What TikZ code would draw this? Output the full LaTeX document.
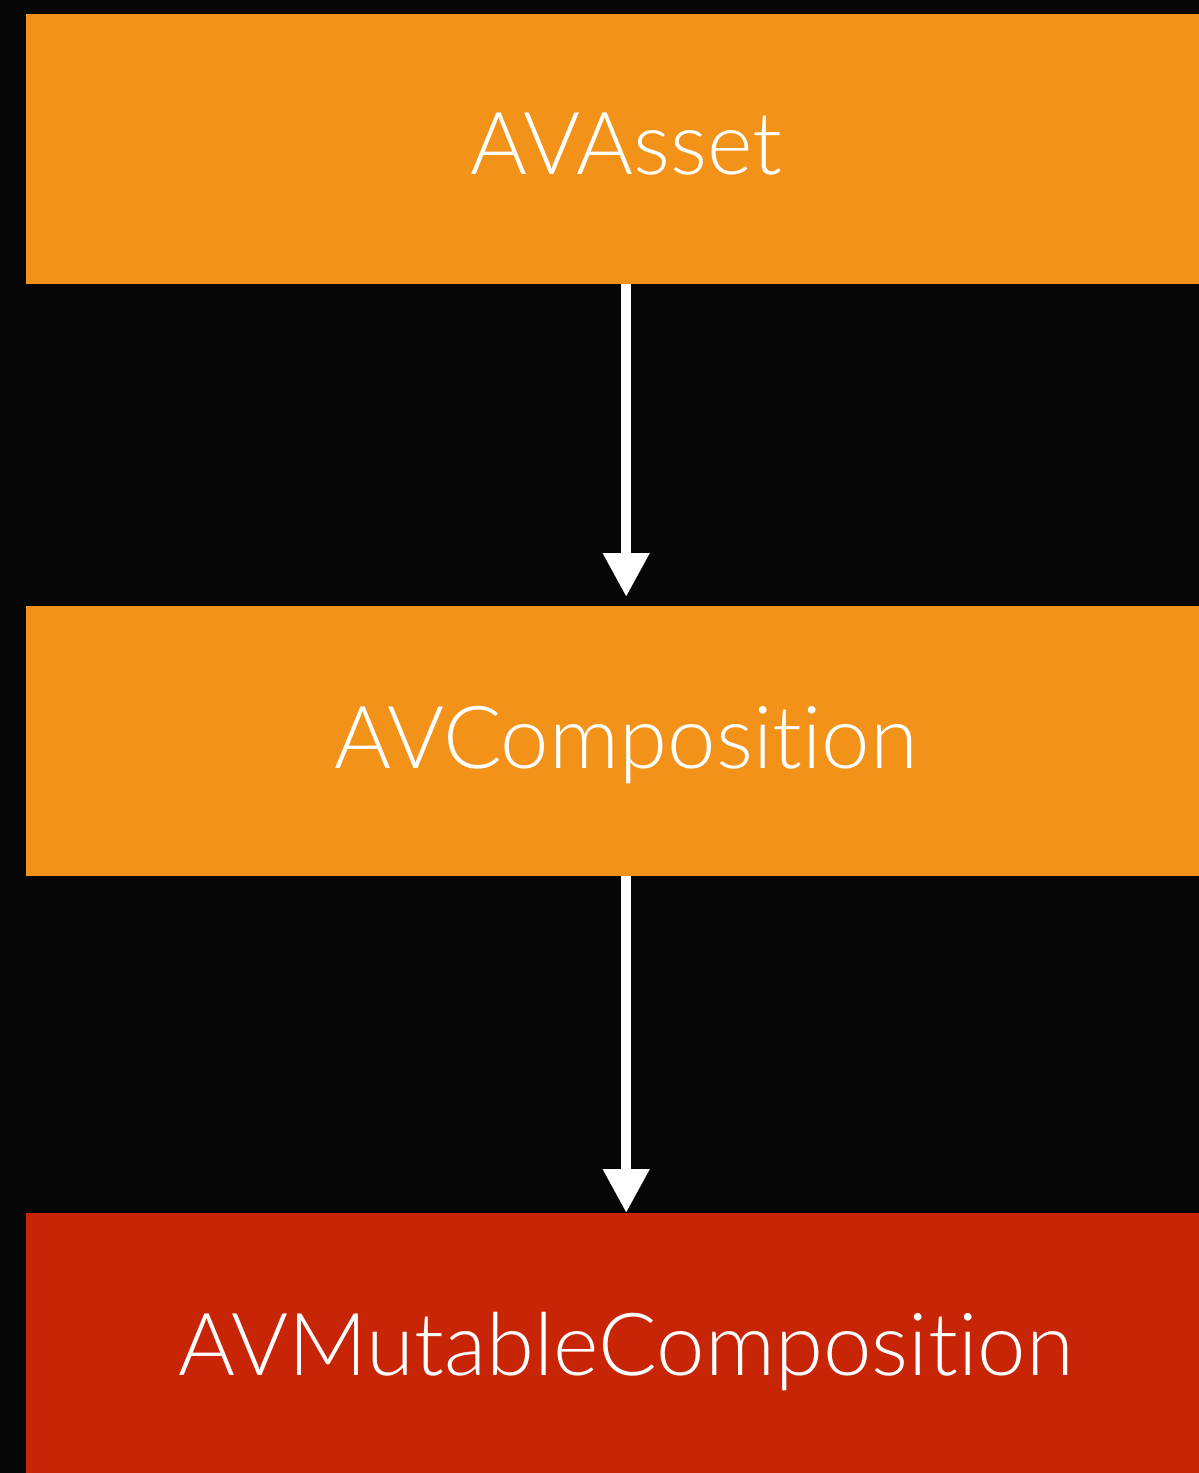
\documentclass[tikz,border=0pt]{standalone}
\usepackage{fontspec}
\setmainfont{Lato}[UprightFont=* Light, Ligatures=NoCommon]
\usetikzlibrary{arrows.meta}
\definecolor{bgblack}{HTML}{060606}
\definecolor{classorange}{HTML}{F39219}
\definecolor{classred}{HTML}{C82506}
\tikzset{
  classbox/.style={draw=none, rectangle, anchor=north west, inner sep=0pt,
    minimum width=1200pt, minimum height=270pt, text=white,
    font=\fontsize{87}{87}\selectfont, text height=62pt, text depth=0pt},
  derives/.style={draw=white, line width=10.5pt,
    -{Triangle[width=44pt,length=44pt]}},
}
\begin{document}
\begin{tikzpicture}[x=1pt,y=-1pt]
  % canvas
  \fill[bgblack] (0,0) rectangle (1199,1473);
  \useasboundingbox (0,0) rectangle (1199,1473);
  \begin{scope}
    \clip (0,0) rectangle (1199,1473);
    % class hierarchy
    \node[classbox, fill=classorange, text depth=12pt] (asset) at (26,14) {AVAsset};
    \node[classbox, fill=classorange, text depth=8pt] (comp) at (26,606) {AVComposition};
    \node[classbox, fill=classred, minimum height=262pt] (mutable) at (26,1213) {AVMutableComposition};
    % inheritance arrows
    \draw[derives] (asset.south) -- ([yshift=9pt]comp.north);
    \draw[derives] (comp.south) -- (mutable.north);
  \end{scope}
\end{tikzpicture}
\end{document}
